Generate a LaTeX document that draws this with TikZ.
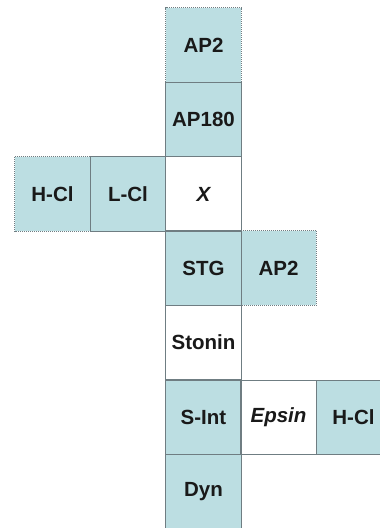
\documentclass[tikz,border=0pt]{standalone}
\usepackage{fontspec}
\setmainfont{Liberation Sans}
\definecolor{cellblue}{HTML}{BCDEE2}
\definecolor{edgegray}{HTML}{6F7D82}
\begin{document}
\begin{tikzpicture}[x=1pt,y=-1pt,
  cellbox/.style={rectangle,inner sep=0pt,minimum width=75.2pt,minimum height=74.5pt,
    font=\fontsize{20.5}{24}\selectfont\bfseries,text=black!90},
  bluecell/.style={cellbox,fill=cellblue},
  whitecell/.style={cellbox,fill=white},
  solidedge/.style={draw=edgegray,line width=1pt},
  dotedge/.style={draw=edgegray,line width=1pt,dash pattern=on 1pt off 1pt}]
\useasboundingbox (0,0) rectangle (380,528);
\fill[white] (0,0) rectangle (380,528);
% cells
\node[bluecell]  (ap2top) at (203.5,45)    {AP2};
\node[bluecell]  (ap180)  at (203.5,119.5) {AP180};
\node[bluecell]  (hcl)    at (52.5,194)    {H-Cl};
\node[bluecell]  (lcl)    at (128,194)     {L-Cl};
\node[whitecell] (x)      at (203.5,194)   {\itshape X};
\node[bluecell]  (stg)    at (203.5,268)   {STG};
\node[bluecell]  (ap2r)   at (278.5,268)   {AP2};
\node[whitecell] (stonin) at (203.5,342.5) {Stonin};
\node[bluecell]  (sint)   at (203.5,417.5) {S-Int};
\node[whitecell] (epsin)  at (278.5,417.5) {\itshape Epsin};
\node[bluecell]  (hcl2)   at (353.5,417.5) {H-Cl};
\node[bluecell]  (dyn)    at (203.5,492)   {Dyn};
% solid edges
\draw[solidedge] (ap180.north west) rectangle (ap180.south east);
\draw[solidedge] (lcl.north west) rectangle (lcl.south east);
\draw[solidedge] (x.north west) rectangle (x.south east);
\draw[solidedge] (stg.north west) rectangle (stg.south east);
\draw[solidedge] (stonin.north west) rectangle (stonin.south east);
\draw[solidedge] (sint.north west) rectangle (sint.south east);
\draw[solidedge] (epsin.north west) rectangle (epsin.south east);
\draw[solidedge] (hcl2.north west) -- (hcl2.north east);
\draw[solidedge] (hcl2.south west) -- (hcl2.south east);
\draw[solidedge] (dyn.south west) -- (dyn.north west) -- (dyn.north east) -- (dyn.south east);
% dotted outer edges
\draw[dotedge] (ap2top.south west) -- (ap2top.north west) -- (ap2top.north east) -- (ap2top.south east);
\draw[dotedge] (hcl.north east) -- (hcl.north west) -- (hcl.south west) -- (hcl.south east);
\draw[dotedge] (ap2r.north west) -- (ap2r.north east) -- (ap2r.south east) -- (ap2r.south west);
\end{tikzpicture}
\end{document}
